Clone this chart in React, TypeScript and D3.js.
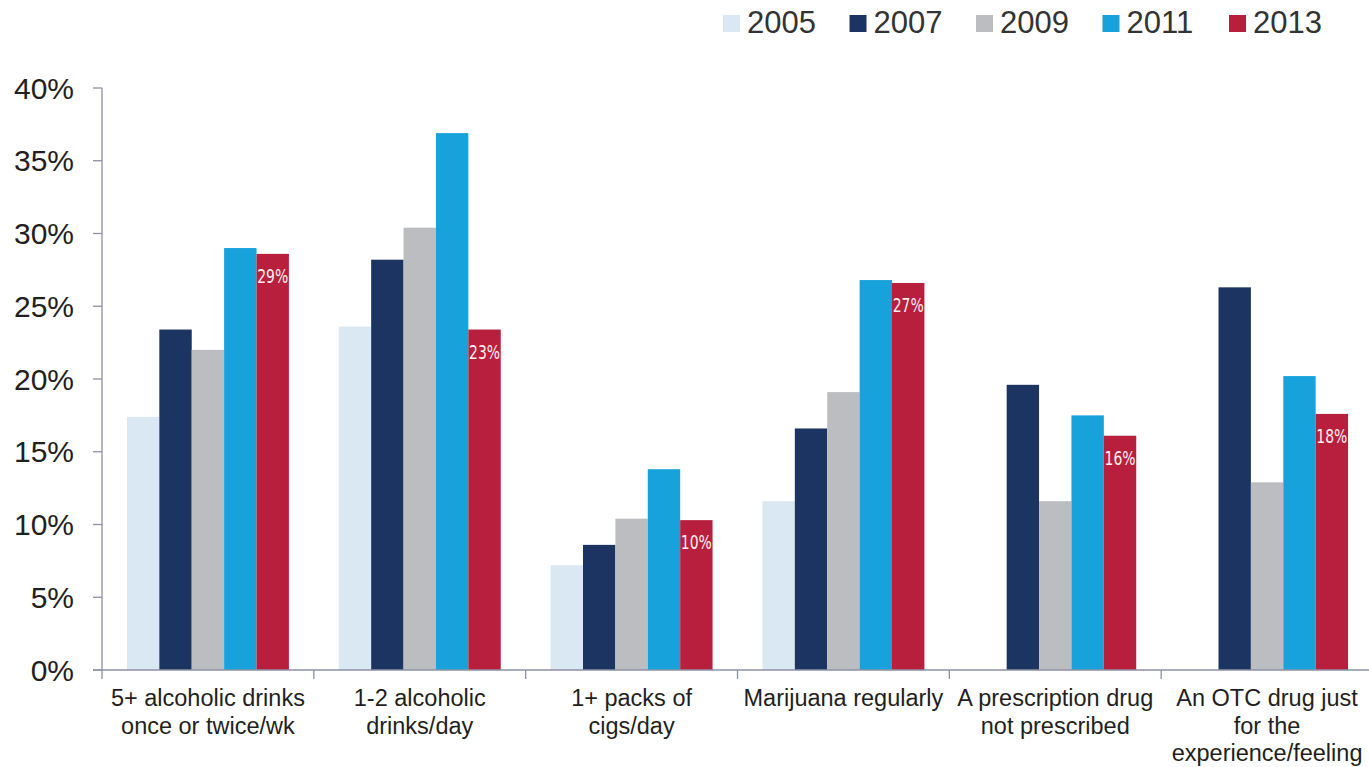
import React from "react";
import * as d3 from "d3";

const categories: string[][] = [
  ["5+ alcoholic drinks", "once or twice/wk"],
  ["1-2 alcoholic", "drinks/day"],
  ["1+ packs of", "cigs/day"],
  ["Marijuana regularly"],
  ["A prescription drug", "not prescribed"],
  ["An OTC drug just", "for the", "experience/feeling"],
];
const years = ["2005", "2007", "2009", "2011", "2013"];
const colors = ["#d9e8f3", "#1b3461", "#bcbdc1", "#17a2dc", "#b81f3c"];
const v2005 = [17.4, 23.6, 7.2, 11.6, null, null];
const v2007 = [23.4, 28.2, 8.6, 16.6, 19.6, 26.3];
const v2009 = [22.0, 30.4, 10.4, 19.1, 11.6, 12.9];
const v2011 = [29.0, 36.9, 13.8, 26.8, 17.5, 20.2];
const v2013 = [28.6, 23.4, 10.3, 26.6, 16.1, 17.6];
const labels2013 = ["29%", "23%", "10%", "27%", "16%", "18%"];
const yTicks = [0, 5, 10, 15, 20, 25, 30, 35, 40];
const series = [v2005, v2007, v2009, v2011, v2013];

const W = 1369, H = 767;
const left = 102, right = 1373, top = 88, bottom = 670;

export default function App() {
  const x = d3.scaleBand<number>().domain(categories.map((_, i) => i)).range([left, right]).padding(0);
  const xi = d3.scaleBand<number>().domain(years.map((_, i) => i)).range([0, x.bandwidth()]).paddingInner(0).paddingOuter(0.77);
  const y = d3.scaleLinear().domain([0, 40]).range([bottom, top]);
  const axisColor = "#8c91a3";
  const txt = "#231f20";
  const font = "'Liberation Sans', Arial, sans-serif";
  const boundaries = d3.range(categories.length).map((i) => left + i * x.step());
  return (
    <svg width={W} height={H} style={{ position: "absolute", left: 0, top: 0, background: "#fff" }}>
      {series.map((s, si) =>
        s.map((v, ci) =>
          v == null ? null : (
            <rect key={`${si}-${ci}`} x={(x(ci) as number) + (xi(si) as number)} y={y(v)} width={xi.bandwidth()} height={y(0) - y(v)} fill={colors[si]} />
          )
        )
      )}
      {v2013.map((v, ci) => (
        <text key={`l${ci}`} x={(x(ci) as number) + (xi(4) as number) + xi.bandwidth() / 2} y={y(v) + 29} textAnchor="middle" fill="#fbeef0" fontSize={20} textLength={31} lengthAdjust="spacingAndGlyphs" fontFamily="'DejaVu Sans Condensed', 'Liberation Sans Narrow', sans-serif">
          {labels2013[ci]}
        </text>
      ))}
      <line x1={left} x2={left} y1={top} y2={bottom} stroke={axisColor} strokeWidth={1.3} />
      {yTicks.map((t) => (
        <g key={`yt${t}`}>
          <line x1={left - 9} x2={left} y1={y(t)} y2={y(t)} stroke={axisColor} strokeWidth={1.3} />
          <text x={74} y={y(t) + 10.5} textAnchor="end" fontSize={30} fontFamily={font} fill={txt}>{`${t}%`}</text>
        </g>
      ))}
      <line x1={left - 9} x2={W} y1={bottom} y2={bottom} stroke={axisColor} strokeWidth={1.3} />
      {boundaries.map((bx, i) => (
        <line key={`xt${i}`} x1={bx} x2={bx} y1={bottom} y2={bottom + 9} stroke={axisColor} strokeWidth={1.3} />
      ))}
      {categories.map((lines, ci) => (
        <text key={`c${ci}`} textAnchor="middle" fontSize={23.5} fontFamily={font} fill={txt}>
          {lines.map((ln, li) => (
            <tspan key={li} x={(x(ci) as number) + x.bandwidth() / 2} y={706 + li * 27.5}>{ln}</tspan>
          ))}
        </text>
      ))}
      {years.map((yr, i) => {
        const lx = 723 + i * 126.5;
        return (
          <g key={`lg${yr}`}>
            <rect x={lx} y={15} width={17} height={17} fill={colors[i]} />
            <text x={lx + 24} y={33} fontSize={31} fontFamily={font} fill="#333">{yr}</text>
          </g>
        );
      })}
    </svg>
  );
}
